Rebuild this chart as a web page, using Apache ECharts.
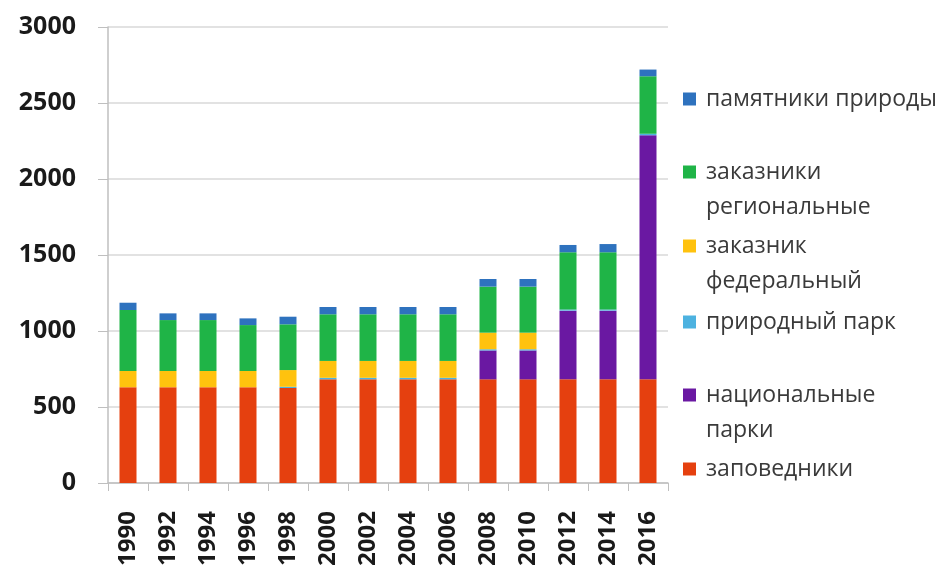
<!DOCTYPE html>
<html><head><meta charset="utf-8">
<script src="https://cdn.jsdelivr.net/npm/echarts@6/dist/echarts.min.js"></script>
<style>html,body{margin:0;padding:0;background:#fff}#c{width:946px;height:571px}</style>
</head><body><div id="c"></div>
<script>
var years = ['1990','1992','1994','1996','1998','2000','2002','2004','2006','2008','2010','2012','2014','2016'];
var zapovedniki = [630,630,630,630,625,682,682,682,682,682,682,682,682,682];
var natsParki   = [0,0,0,0,0,0,0,0,0,190,190,452,452,1606];
var prirodPark  = [0,0,0,0,8,10,10,10,10,8,8,8,8,10];
var zakFed      = [107,107,107,107,110,111,111,111,111,109,109,0,0,0];
var zakReg      = [401,335,335,302,301,307,307,307,307,303,303,376,376,378];
var pamyatniki  = [48,44,44,44,50,48,48,48,48,50,50,48,54,44];
var yTicks = [0,500,1000,1500,2000,2500,3000];

var names = ['заповедники','национальные парки','природный парк','заказник федеральный','заказники региональные','памятники природы'];
var labels = {
  'заповедники':'заповедники',
  'национальные парки':'\nнациональные\nпарки',
  'природный парк':'природный парк',
  'заказник федеральный':'\nзаказник\nфедеральный',
  'заказники региональные':'\nзаказники\nрегиональные',
  'памятники природы':'памятники природы'
};
var colors = ['#E5400F','#6A18A2','#4DB2E0','#FFC20E','#1FB447','#2E72BE'];
var values = [zapovedniki, natsParki, prirodPark, zakFed, zakReg, pamyatniki];

// legend marker centers (layout)
var legendCenters = {'памятники природы':99,'заказники региональные':172,'заказник федеральный':246,'природный парк':322,'национальные парки':395,'заповедники':469};
var LH = 35;
var legends = names.map(function(n){
  var lines = labels[n].split('\n').length;
  var h = LH*lines;
  return {
    show:true, data:[n], orient:'vertical', left:683, top: legendCenters[n] - h/2, padding:0,
    itemWidth:13, itemHeight:13, icon:'rect',
    formatter: function(x){ return labels[x]; },
    textStyle:{fontFamily:'Open Sans', fontSize:23, color:'#3a3a3a', lineHeight:LH, padding:[0,0,0,5]}
  };
});

var series = names.map(function(n,i){
  return {name:n, type:'bar', stack:'total', data: values[i], barWidth:17,
    itemStyle:{color:colors[i]}, emphasis:{disabled:true}};
});

var chart = echarts.init(document.getElementById('c'));
chart.setOption({
  animation:false,
  grid:{left:108, right:278, top:27, bottom:88, containLabel:false},
  legend: legends,
  xAxis:{type:'category', data:years,
    axisLine:{lineStyle:{color:'#bfbfbf', width:1.5}},
    axisTick:{show:true, length:8, lineStyle:{color:'#bfbfbf'}},
    axisLabel:{rotate:90, margin:28, fontFamily:'Open Sans', fontWeight:'bold', fontSize:24, color:'#1a1a1a'}
  },
  yAxis:{type:'value', min:yTicks[0], max:yTicks[yTicks.length-1], interval:500,
    axisLine:{show:true, lineStyle:{color:'#bfbfbf', width:1.5}},
    axisTick:{show:true, length:10, lineStyle:{color:'#bfbfbf'}},
    splitLine:{lineStyle:{color:'#d9d9d9', width:1.5}},
    axisLabel:{margin:32, fontFamily:'Open Sans', fontWeight:'bold', fontSize:25, color:'#1a1a1a',
      formatter:function(v){ return String(v); }}
  },
  series: series
});
</script></body></html>
